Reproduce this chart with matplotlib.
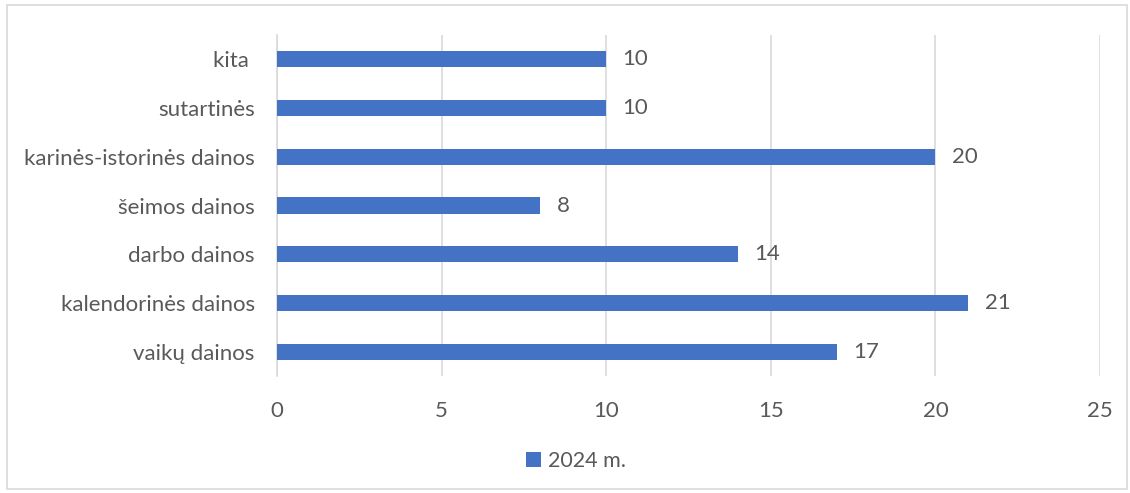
import matplotlib
matplotlib.use('Agg')
import matplotlib.pyplot as plt
from matplotlib.patches import Rectangle

categories = ['vaikų dainos', 'kalendorinės dainos', 'darbo dainos', 'šeimos dainos',
              'karinės-istorinės dainos', 'sutartinės', 'kita ']
values = [17, 21, 14, 8, 20, 10, 10]
xticks = [0, 5, 10, 15, 20, 25]
series_label = '2024 m.'

BAR = '#4472C4'
TXT = '#595959'
GRID = '#D9D9D9'
FS = 16

plt.rcParams['font.family'] = ['Lato', 'DejaVu Sans']

fig = plt.figure(figsize=(11.3, 4.93), dpi=100)
ax = fig.add_axes([277 / 1130, 1 - 376 / 493, (1100 - 277) / 1130, (376 - 35) / 493])

ypos = list(range(len(categories)))
bars = ax.barh(ypos, values, height=0.33, color=BAR, label=series_label, zorder=3)
for y, v in zip(ypos, values):
    ax.text(v + 0.5, y, str(v), va='center', ha='left', fontsize=FS, color=TXT)

ax.set_xlim(0, 25)
ax.set_ylim(-0.5, len(categories) - 0.5)
ax.set_xticks(xticks)
ax.set_yticks(ypos)
ax.set_yticklabels(categories)
ax.xaxis.grid(True, color=GRID, lw=1.2, zorder=0)
for s in ['top', 'right', 'bottom']:
    ax.spines[s].set_visible(False)
ax.spines['left'].set_color(GRID)
ax.spines['left'].set_linewidth(1.2)
ax.tick_params(axis='both', length=0, labelsize=FS, colors=TXT)
ax.tick_params(axis='x', pad=18)
ax.tick_params(axis='y', pad=16)

leg = fig.legend(handles=[bars], labels=[series_label], loc='center',
                 bbox_to_anchor=(576 / 1130, 1 - 461 / 493), frameon=False,
                 fontsize=15.5, handlelength=0.7, handleheight=0.7, handletextpad=0.3)
for t in leg.get_texts():
    t.set_color(TXT)

fig.patches.append(Rectangle((7 / 1130, 4 / 493), 1120 / 1130, 484 / 493,
                             transform=fig.transFigure, fill=False,
                             edgecolor=GRID, lw=1.2))

fig.savefig('out.png', dpi=100)
